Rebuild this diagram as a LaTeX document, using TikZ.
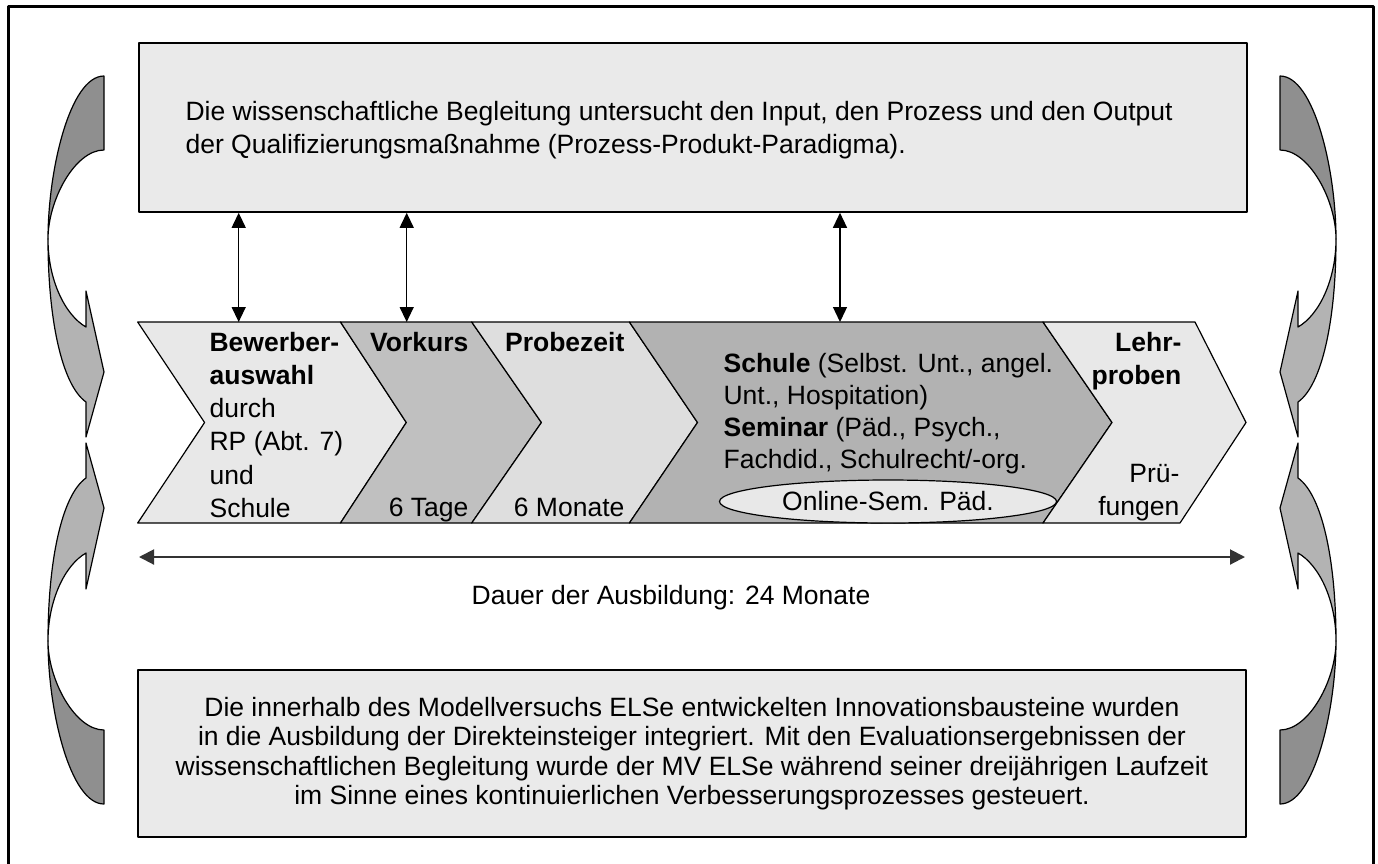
\documentclass[tikz,border=0pt]{standalone}
\usepackage{fontspec}
\setmainfont{Liberation Sans}
\usetikzlibrary{arrows.meta,shapes.geometric}
\definecolor{boxgray}{HTML}{EAEAEA}
\definecolor{chevlight}{HTML}{E8E8E8}
\definecolor{chevmid}{HTML}{C0C0C0}
\definecolor{chevpale}{HTML}{DEDEDE}
\definecolor{chevdark}{HTML}{B2B2B2}
\definecolor{arrowdark}{HTML}{8F8F8F}
\definecolor{arrowlight}{HTML}{B3B3B3}
% one twisted arrow of the left column (tail at top, head at bottom)
\newcommand{\bendarrow}{%
\filldraw[fill=arrowdark] (104,76) .. controls (70,76) and (48,170) .. (48,239)
  .. controls (48,200) and (75,150) .. (104,150) -- cycle;
\filldraw[fill=arrowlight] (48,239) .. controls (48,320) and (62,385) .. (86,402)
  -- (86,437) -- (104,372) -- (86,291) -- (86,327)
  .. controls (65,315) and (48,280) .. (48,239) -- cycle;}
\begin{document}
\begin{tikzpicture}[x=1pt,y=-1pt,line width=1.2pt,line join=round,
  txt/.style={font=\fontsize{26.5}{33.2}\selectfont,inner sep=0pt},
  box/.style={draw,fill=boxgray,line width=1.8pt,inner sep=0pt},
  chev/.style={draw,line width=1.2pt},
  tip/.style={Triangle[length=15pt,width=14pt]},
  dbl/.style={{Triangle[length=15pt,width=14pt]}-{Triangle[length=15pt,width=14pt]},line width=1.3pt}]
\useasboundingbox (0,0) rectangle (1378,863);
\draw[line width=3pt] (8,880) -- (8,6.5) -- (1373,6.5) -- (1373,880);

% curved arrows left and right
\bendarrow
\begin{scope}[shift={(0,880)},yscale=-1]\bendarrow\end{scope}
\begin{scope}[shift={(1384,0)},xscale=-1]\bendarrow\end{scope}
\begin{scope}[shift={(1384,880)},scale=-1]\bendarrow\end{scope}

% research box
\node[box,minimum width=1108pt,minimum height=169pt,anchor=north west] (research) at (138,42) {};
\node[txt,align=left,anchor=north west] (researchtxt) at (185,100.5)
  {Die wissenschaftliche Begleitung untersucht den Input, den Prozess und den Output\\
   der Qualifizierungsma\ss nahme (Prozess-Produkt-Paradigma).};

% phases
\filldraw[chev,fill=chevlight] (137.7,322) -- (340.5,322) -- (406.3,422.5) -- (340.5,523) -- (137.7,523) -- (204.6,422.5) -- cycle;
\filldraw[chev,fill=chevmid] (340.5,322) -- (471.7,322) -- (541.4,422.5) -- (471.7,523) -- (340.5,523) -- (406.3,422.5) -- cycle;
\filldraw[chev,fill=chevpale] (471.7,322) -- (629.4,322) -- (697.5,422.5) -- (629.4,523) -- (471.7,523) -- (541.4,422.5) -- cycle;
\filldraw[chev,fill=chevdark] (629.4,322) -- (1043,322) -- (1112,422.5) -- (1043,523) -- (629.4,523) -- (697.5,422.5) -- cycle;
\filldraw[chev,fill=chevlight] (1043,322) -- (1195,322) -- (1246,422.5) -- (1180,523) -- (1043,523) -- (1112,422.5) -- cycle;

\node[txt,align=left,anchor=north west] (select) at (209,331.5)
  {\textbf{Bewerber-}\\\textbf{auswahl}\\durch\\RP (Abt. 7)\\und\\Schule};
\node[txt,anchor=north east] (prep) at (469,331.5) {\textbf{Vorkurs}};
\node[txt,anchor=base east] (prepdays) at (469,516.5) {6 Tage};
\node[txt,anchor=north east] (trial) at (625,331.5) {\textbf{Probezeit}};
\node[txt,anchor=base east] (trialmonths) at (625,516.5) {6 Monate};
\node[txt,align=left,anchor=north west,font=\fontsize{26.5}{32}\selectfont] (school) at (723,352.5)
  {\textbf{Schule} (Selbst. Unt., angel.\\Unt., Hospitation)\\
   \textbf{Seminar} (P\"ad., Psych.,\\Fachdid., Schulrecht/-org.};
\node[draw,ellipse,fill=chevlight,line width=1.2pt,minimum width=337pt,minimum height=43pt,inner sep=0pt,
  font=\fontsize{26.5}{32}\selectfont] (online) at (888,501.5) {Online-Sem. P\"ad.};
\node[txt,align=right,anchor=north east] (exam) at (1182,331.5) {\textbf{Lehr-}\\\textbf{proben}};
\node[txt,align=right,anchor=south east] (examtxt) at (1180,522) {Pr\"u-\\fungen};

% links research <-> phases
\coordinate (applytop) at (238.7,322);
\coordinate (preptop) at (406.7,322);
\coordinate (schooltop) at (840,322);
\draw[dbl] (research.south -| applytop) -- (applytop);
\draw[dbl] (research.south -| preptop) -- (preptop);
\draw[dbl] (research.south -| schooltop) -- (schooltop);

% duration
\coordinate (spanL) at (139,557);
\coordinate (spanR) at (1245,557);
\draw[{Triangle[length=15pt,width=15pt]}-{Triangle[length=15pt,width=15pt]},line width=2pt,black!80] (spanL) -- (spanR);
\node[txt] (dauer) at (671,598) {Dauer der Ausbildung: 24 Monate};

% steering box
\node[box,align=center,minimum width=1108pt,minimum height=167pt,
  font=\fontsize{26.5}{29.5}\selectfont] (steer) at (692,753.5)
  {Die innerhalb des Modellversuchs ELSe entwickelten Innovationsbausteine wurden\\
   in die Ausbildung der Direkteinsteiger integriert. Mit den Evaluationsergebnissen der\\
   wissenschaftlichen Begleitung wurde der MV ELSe w\"ahrend seiner dreij\"ahrigen Laufzeit\\
   im Sinne eines kontinuierlichen Verbesserungsprozesses gesteuert.};
\end{tikzpicture}
\end{document}
